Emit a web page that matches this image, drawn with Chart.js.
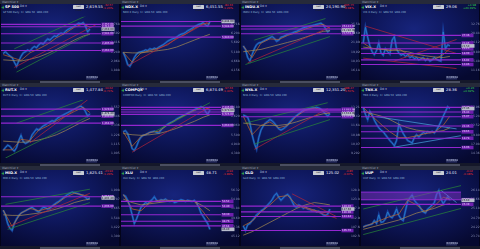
<!DOCTYPE html>
<html>
<head>
<meta charset="utf-8">
<script src="https://cdn.jsdelivr.net/npm/chart.js@4.4.1/dist/chart.umd.min.js"></script>
<style>
    html, body { margin: 0; padding: 0; background: #000; width: 480px; height: 249px; overflow: hidden; font-family: "DejaVu Sans", sans-serif; }
    #grid { display: grid; grid-template-columns: repeat(4, 120px); grid-template-rows: repeat(3, 83px); width: 480px; height: 249px; }
    .panel { position: relative; width: 120px; height: 83px; overflow: hidden;
             background: radial-gradient(ellipse 75% 70% at 45% 35%, #17247c 0%, #0e175c 45%, #060930 100%);
             box-shadow: inset 0 0 0 1px #03041a; }
    .topbar { position: absolute; left: 0; top: 0; width: 120px; height: 4px; background: #262a3a; color: #9aa0b8; font-size: 3px; line-height: 4px; padding-left: 2px; box-sizing: border-box; }
    .plus { position: absolute; left: 1px; top: 5px; color: #3ad04a; font-size: 5px; line-height: 4px; font-weight: bold; }
    .sym { position: absolute; left: 4px; top: 4.5px; color: #fff; font-size: 3.6px; line-height: 4px; font-weight: bold; background: #0a1250; padding: 0 1px; }
    .dd { position: absolute; left: 20px; top: 5px; color: #c0c8e0; font-size: 3px; line-height: 3px; }
    .btn { position: absolute; left: 73px; top: 5px; width: 11px; height: 4px; background: #c8ccd4; color: #202020; font-size: 2.2px; line-height: 4px; text-align: center; border-radius: 0.5px; }
    .last { position: absolute; left: 86px; top: 4.5px; color: #e8ecff; font-size: 3.8px; line-height: 4px; }
    .chg { position: absolute; left: 103px; top: 3.5px; font-size: 2.8px; line-height: 3px; text-align: right; }
    .legend { position: absolute; left: 3px; top: 11px; color: #8fb8d8; font-size: 2.6px; line-height: 3px; white-space: nowrap; }
    .scroll { position: absolute; left: 0; bottom: 0; width: 120px; height: 3px; background: #15182a; }
    .thumb { position: absolute; left: 40px; bottom: 0.5px; width: 60px; height: 2px; background: #4a4e60; }
    canvas { position: absolute; left: 0; top: 13px; }
</style>
</head>
<body>
<div id="grid"></div>
<script>
// ============================================
// Data (values are read off the picture, 0-100 of each plot height)
// ============================================

const maX = [0, 4, 8, 12, 16, 20, 24, 28, 32, 36, 39]; // x index of the moving-average points
const xTickPos = [1, 8, 15, 22, 29, 35];
const xTickLabels = ['Mar', 'Jun', 'Sep', 'Dec', 'Mar', 'Jun'];

const symbols = ['SP 500', 'NDX.X', 'INDU.X', 'VIX.X', 'RUT.X', 'COMPQX', 'NYA.X', 'TNX.X', 'MID.X', 'XLU', 'GLD', 'UUP'];
const lastValues = ['2,619.55', '6,451.55', '24,190.90', '29.06', '1,477.84', '6,874.49', '12,351.20', '28.36', '1,825.41', '48.71', '125.02', '24.01'];
const changes = ['-32.57', '-84.33', '-665.75', '+4.98', '-10.62', '-97.33', '-188.47', '+0.26', '-23.94', '-0.94', '-0.85', '-0.02'];
const changePcts = ['-1.23%', '-1.29%', '-2.68%', '+20.69%', '-0.71%', '-1.40%', '-1.50%', '+0.92%', '-1.29%', '-1.89%', '-0.67%', '-0.08%'];
const axisRanges = [[1800, 2900], [3900, 7100], [15200, 27000], [9, 36], [950, 1640], [4100, 7600],
                    [8900, 13800], [13, 30], [1240, 2000], [44, 58], [100, 132], [23.5, 26.5]];

// Panel 1 - SP 500
const spxPrice = [37, 40, 36, 33, 30, 22, 15, 24, 32, 38, 40, 43, 41, 46, 49, 47, 52, 55, 53, 58, 62, 60, 64, 67, 66, 70, 72, 71, 75, 78, 80, 82, 84, 87, 89, 88, 90, 84, 74, 79];
const spxMaFast = [35, 30, 25, 38, 45, 53, 64, 72, 82, 88, 82];
const spxMaSlow = [26, 25, 24, 27, 31, 37, 44, 52, 60, 67, 70];
const spxLevels = [87, 83, 71, 55, 42];
const spxTrends = [['r', 5, 13, 42, 87], ['g', 5, 45, 38, 103], ['g', 6, 5, 39, 71]];

// Panel 2 - NDX
const ndxPrice = [39, 30, 18, 15, 22, 30, 36, 39, 40, 41, 43, 42, 45, 44, 46, 45, 48, 50, 52, 55, 58, 60, 62, 63, 65, 68, 70, 71, 73, 76, 78, 80, 83, 85, 87, 88, 90, 86, 84, 92];
const ndxMaFast = [39, 22, 38, 42, 46, 52, 63, 70, 80, 88, 88];
const ndxMaSlow = [39, 38, 38, 40, 42, 44, 48, 54, 60, 66, 70];
const ndxLevels = [92, 84, 65];
const ndxTrends = [['r', 2, 16, 39, 93]];

// Panel 3 - INDU
const induPrice = [50, 44, 30, 24, 35, 45, 52, 55, 56, 58, 60, 62, 64, 66, 63, 58, 60, 65, 66, 68, 70, 71, 72, 74, 75, 77, 79, 81, 82, 83, 84, 85, 86, 87, 88, 89, 86, 80, 74, 77];
const induMaFast = [50, 30, 55, 62, 61, 68, 73, 79, 84, 87, 80];
const induMaSlow = [40, 42, 44, 48, 52, 56, 60, 65, 70, 75, 76];
const induLevels = [84, 79, 71];
const induTrends = [['g', 5, 60, 37, 97], ['g', 1, 18, 39, 66], ['r', 2, 21, 39, 82]];

// Panel 4 - VIX
const vixPrice = [55, 82, 65, 50, 40, 35, 42, 55, 38, 34, 45, 40, 36, 60, 66, 45, 38, 34, 36, 32, 35, 30, 32, 28, 30, 26, 28, 30, 25, 28, 24, 26, 30, 27, 25, 24, 74, 45, 52, 50];
const vixMaFast = [55, 45, 45, 42, 45, 36, 31, 28, 27, 35, 45];
const vixMaSlow = [48, 46, 44, 43, 42, 40, 36, 33, 31, 30, 32];
const vixLevels = [68, 55, 45, 37, 26, 18];
const vixTrends = [['r', 1, 84, 42, 37], ['r', 0, 29, 42, 11], ['r', 14, 24, 42, 61]];

// Panel 5 - RUT
const rutPrice = [13, 18, 22, 20, 15, 12, 18, 30, 39, 28, 25, 27, 30, 40, 45, 50, 48, 52, 55, 57, 60, 62, 64, 63, 67, 70, 72, 74, 76, 78, 80, 82, 84, 86, 88, 89, 86, 80, 72, 76];
const rutMaFast = [14, 14, 32, 30, 48, 55, 64, 72, 80, 87, 78];
const rutMaSlow = [29, 28, 27, 28, 31, 35, 40, 47, 55, 63, 68];
const rutLevels = [84, 72, 60];
const rutTrends = [['g', 6, 60, 36, 100], ['g', 1, 0, 38, 71], ['r', 12, 26, 38, 100]];

// Panel 6 - COMPQX
const compPrice = [45, 47, 42, 30, 16, 13, 20, 30, 36, 39, 40, 42, 44, 45, 46, 44, 43, 48, 52, 55, 58, 60, 62, 64, 67, 69, 71, 73, 75, 77, 79, 81, 83, 85, 86, 88, 87, 80, 75, 82];
const compMaFast = [45, 20, 37, 44, 46, 57, 66, 74, 82, 87, 84];
const compMaSlow = [42, 40, 39, 40, 42, 46, 51, 57, 63, 70, 74];
const compLevels = [87, 83, 79, 75, 56];
const compTrends = [['r', 4, 10, 39, 88], ['g', 14, 45, 39, 95]];

// Panel 7 - NYA
const nyaPrice = [74, 72, 70, 60, 40, 25, 15, 35, 48, 55, 60, 63, 66, 64, 60, 55, 50, 48, 50, 53, 57, 62, 66, 70, 73, 76, 79, 82, 83, 84, 85, 86, 86, 87, 86, 84, 80, 76, 72, 76];
const nyaMaFast = [72, 40, 56, 62, 52, 56, 72, 82, 86, 82, 77];
const nyaMaSlow = [60, 58, 56, 56, 56, 58, 62, 67, 72, 76, 77];
const nyaLevels = [84, 82, 79, 71];
const nyaTrends = [['g', 1, 60, 38, 95], ['g', 5, 24, 39, 66], ['r', 5, 15, 38, 85]];

// Panel 8 - TNX
const tnxPrice = [87, 75, 66, 80, 74, 65, 58, 52, 48, 45, 40, 35, 30, 26, 21, 30, 58, 50, 42, 36, 30, 28, 26, 35, 40, 36, 40, 44, 42, 45, 44, 46, 43, 48, 55, 63, 72, 80, 88, 85];
const tnxMaFast = [87, 72, 58, 45, 35, 35, 38, 42, 44, 56, 72];
const tnxMaSlow = [80, 76, 72, 66, 58, 52, 48, 46, 45, 47, 52];
const tnxLevels = [87, 79, 71, 55, 45, 34, 18];
const tnxTrends = [['b', 6, 71, 42, 50], ['b', 13, 18, 45, 39]];

// Panel 9 - MID
const midPrice = [53, 45, 30, 22, 18, 30, 38, 44, 48, 50, 52, 54, 56, 58, 55, 52, 50, 54, 58, 57, 55, 56, 60, 63, 66, 68, 71, 74, 77, 80, 82, 84, 83, 82, 81, 79, 78, 75, 72, 74];
const midMaFast = [53, 25, 48, 56, 52, 56, 64, 75, 82, 79, 76];
const midMaSlow = [45, 44, 44, 46, 48, 51, 55, 60, 66, 70, 72];
const midLevels = [76, 60];
const midTrends = [['g', 1, 63, 39, 89], ['g', 2, 20, 39, 66], ['r', 2, 24, 39, 82]];

// Panel 10 - XLU
const xluPrice = [79, 77, 70, 60, 45, 30, 38, 48, 58, 62, 66, 64, 68, 71, 76, 70, 68, 71, 70, 72, 69, 68, 70, 66, 67, 69, 71, 70, 68, 70, 69, 68, 70, 66, 58, 48, 42, 36, 30, 20];
const xluMaFast = [80, 55, 52, 66, 70, 70, 69, 69, 68, 50, 35];
const xluMaSlow = [72, 66, 62, 64, 66, 68, 69, 69, 68, 60, 52];
const xluLevels = [68, 60, 45, 34, 26];
const xluTrends = [];

// Panel 11 - GLD
const gldPrice = [26, 18, 28, 30, 35, 39, 45, 48, 52, 54, 58, 62, 66, 71, 78, 82, 75, 70, 74, 78, 80, 76, 68, 60, 58, 62, 60, 56, 58, 55, 54, 52, 53, 50, 51, 48, 45, 44, 46, 55];
const gldMaFast = [26, 34, 50, 62, 76, 78, 62, 58, 53, 49, 50];
const gldMaSlow = [10, 16, 24, 32, 40, 48, 56, 62, 66, 64, 62];
const gldLevels = [60, 50, 42, 18];
const gldTrends = [['r', 22, 81, 42, 42], ['r', 25, 60, 42, 39]];

// Panel 12 - UUP
const uupPrice = [24, 26, 27, 28, 29, 35, 30, 45, 32, 33, 38, 50, 42, 40, 46, 55, 44, 38, 35, 52, 68, 74, 79, 70, 65, 62, 55, 50, 48, 55, 58, 62, 66, 80, 87, 72, 64, 70, 76, 70];
const uupMaFast = [24, 30, 36, 42, 46, 70, 62, 50, 60, 75, 72];
const uupMaSlow = [20, 24, 28, 32, 36, 42, 48, 52, 56, 62, 64];
const uupLevels = [71, 63];
const uupBand = [71, 84];
const uupTrends = [['g', 0, 55, 46, 97], ['g', 0, 11, 46, 58], ['b', 35, 87, 42, 66]];

const panels = [
    { price: spxPrice, fast: spxMaFast, slow: spxMaSlow, levels: spxLevels, trends: spxTrends },
    { price: ndxPrice, fast: ndxMaFast, slow: ndxMaSlow, levels: ndxLevels, trends: ndxTrends },
    { price: induPrice, fast: induMaFast, slow: induMaSlow, levels: induLevels, trends: induTrends },
    { price: vixPrice, fast: vixMaFast, slow: vixMaSlow, levels: vixLevels, trends: vixTrends },
    { price: rutPrice, fast: rutMaFast, slow: rutMaSlow, levels: rutLevels, trends: rutTrends },
    { price: compPrice, fast: compMaFast, slow: compMaSlow, levels: compLevels, trends: compTrends },
    { price: nyaPrice, fast: nyaMaFast, slow: nyaMaSlow, levels: nyaLevels, trends: nyaTrends },
    { price: tnxPrice, fast: tnxMaFast, slow: tnxMaSlow, levels: tnxLevels, trends: tnxTrends },
    { price: midPrice, fast: midMaFast, slow: midMaSlow, levels: midLevels, trends: midTrends },
    { price: xluPrice, fast: xluMaFast, slow: xluMaSlow, levels: xluLevels, trends: xluTrends },
    { price: gldPrice, fast: gldMaFast, slow: gldMaSlow, levels: gldLevels, trends: gldTrends },
    { price: uupPrice, fast: uupMaFast, slow: uupMaSlow, levels: uupLevels, trends: uupTrends, band: uupBand }
];

const trendColors = { r: '#b8243a', g: '#2a8a36', b: '#4aa8e0' };

// ============================================
// Helpers
// ============================================

function formatAxis(index, v) {
    const [lo, hi] = axisRanges[index];
    const value = lo + v * (hi - lo) / 100;
    return value.toLocaleString('en-US', { minimumFractionDigits: 2, maximumFractionDigits: 2 });
}

function line(data, color, width, extra) {
    return Object.assign({ data, borderColor: color, borderWidth: width, pointRadius: 0, tension: 0, fill: false }, extra || {});
}

// Purple level tags on the right axis
const levelTags = {
    id: 'levelTags',
    afterDatasetsDraw(chart, args, opts) {
        const { ctx, chartArea, scales } = chart;
        ctx.save();
        ctx.font = '2.6px "DejaVu Sans"';
        ctx.textBaseline = 'middle';
        opts.levels.forEach(level => {
            const y = scales.y.getPixelForValue(level);
            ctx.fillStyle = '#6e1fae';
            ctx.fillRect(chartArea.right + 0.5, y - 1.8, 12, 3.6);
            ctx.fillStyle = '#e8d0ff';
            ctx.fillText(formatAxis(opts.index, level), chartArea.right + 1, y);
        });
        // last price tag
        const last = opts.price[opts.price.length - 1];
        const ly = scales.y.getPixelForValue(last);
        ctx.fillStyle = '#b8bccc';
        ctx.fillRect(chartArea.right + 0.5, ly - 1.8, 13, 3.6);
        ctx.fillStyle = '#101020';
        ctx.fillText(formatAxis(opts.index, last), chartArea.right + 1, ly);
        // date tag
        const dx = scales.x.getPixelForValue(40);
        ctx.fillStyle = '#2a3060';
        ctx.fillRect(dx - 6, chartArea.bottom + 1, 11, 3.5);
        ctx.fillStyle = '#c0c8e0';
        ctx.fillText('02/09/18', dx - 5.5, chartArea.bottom + 2.8);
        ctx.restore();
    }
};

// ============================================
// Build the panels
// ============================================

const grid = document.getElementById('grid');

panels.forEach((panel, index) => {
    const up = changes[index].startsWith('+');
    const div = document.createElement('div');
    div.className = 'panel';
    div.innerHTML = `
        <div class="topbar">Watchlist ▾</div>
        <div class="plus">+</div>
        <div class="sym">${symbols[index]}</div>
        <div class="dd">Dd ▾</div>
        <div class="btn">Last Close</div>
        <div class="last">${lastValues[index]}</div>
        <div class="chg" style="color:${up ? '#36d04a' : '#e02a2a'}">${changes[index]}<br>${changePcts[index]}</div>
        <div class="legend">${symbols[index]} Daily &nbsp;Cl &nbsp;SMA 50 &nbsp;SMA 200</div>
        <div class="scroll"><div class="thumb"></div></div>`;
    const canvas = document.createElement('canvas');
    canvas.width = 120;
    canvas.height = 67;
    div.appendChild(canvas);
    grid.appendChild(div);

    const pricePts = panel.price.map((v, i) => ({ x: i, y: v }));
    const datasets = [];

    if (panel.band) {
        datasets.push(line([{ x: -2, y: panel.band[1] }, { x: 48, y: panel.band[1] }], '#8a2ad0', 1,
            { fill: { value: panel.band[0] }, backgroundColor: 'rgba(140,50,200,0.45)' }));
    }
    panel.levels.forEach(level => {
        datasets.push(line([{ x: -2, y: level }, { x: 48, y: level }], '#9426d0', 1.1));
    });
    panel.trends.forEach(([c, x1, y1, x2, y2]) => {
        datasets.push(line([{ x: x1, y: y1 }, { x: x2, y: y2 }], trendColors[c], 0.7));
    });
    datasets.push(line(panel.slow.map((v, i) => ({ x: maX[i], y: v })), '#a88c52', 0.7));
    datasets.push(line(panel.fast.map((v, i) => ({ x: maX[i], y: v })), '#c0682a', 0.7));
    datasets.push(line(pricePts, 'rgba(30,90,200,0.6)', 2.2)); // candle bodies
    datasets.push(line(pricePts, '#36c2d8', 0.8)); // closes

    new Chart(canvas, {
        type: 'line',
        data: { datasets },
        options: {
            responsive: false,
            animation: false,
            events: [],
            layout: { padding: { left: 1, top: 1, right: 0, bottom: 0 } },
            plugins: {
                legend: { display: false },
                tooltip: { enabled: false },
                levelTags: { levels: panel.levels, index, price: panel.price }
            },
            scales: {
                x: {
                    type: 'linear', min: -1, max: 44,
                    grid: { display: false }, border: { display: false },
                    afterBuildTicks: scale => { scale.ticks = xTickPos.map(v => ({ value: v })); },
                    afterFit: scale => { scale.height = 5; },
                    ticks: {
                        color: '#8a90b8', font: { size: 3, family: 'DejaVu Sans' }, padding: 1, maxRotation: 0,
                        callback: (v, i) => xTickLabels[i]
                    }
                },
                y: {
                    position: 'right', min: 0, max: 100,
                    grid: { display: false }, border: { display: false },
                    afterBuildTicks: scale => { scale.ticks = [8, 24, 40, 56, 72, 88].map(v => ({ value: v })); },
                    afterFit: scale => { scale.width = 19; },
                    ticks: {
                        color: '#8a90b8', font: { size: 3, family: 'DejaVu Sans' }, padding: 2,
                        callback: v => formatAxis(index, v)
                    }
                }
            }
        },
        plugins: [levelTags]
    });
});
</script>
</body>
</html>
